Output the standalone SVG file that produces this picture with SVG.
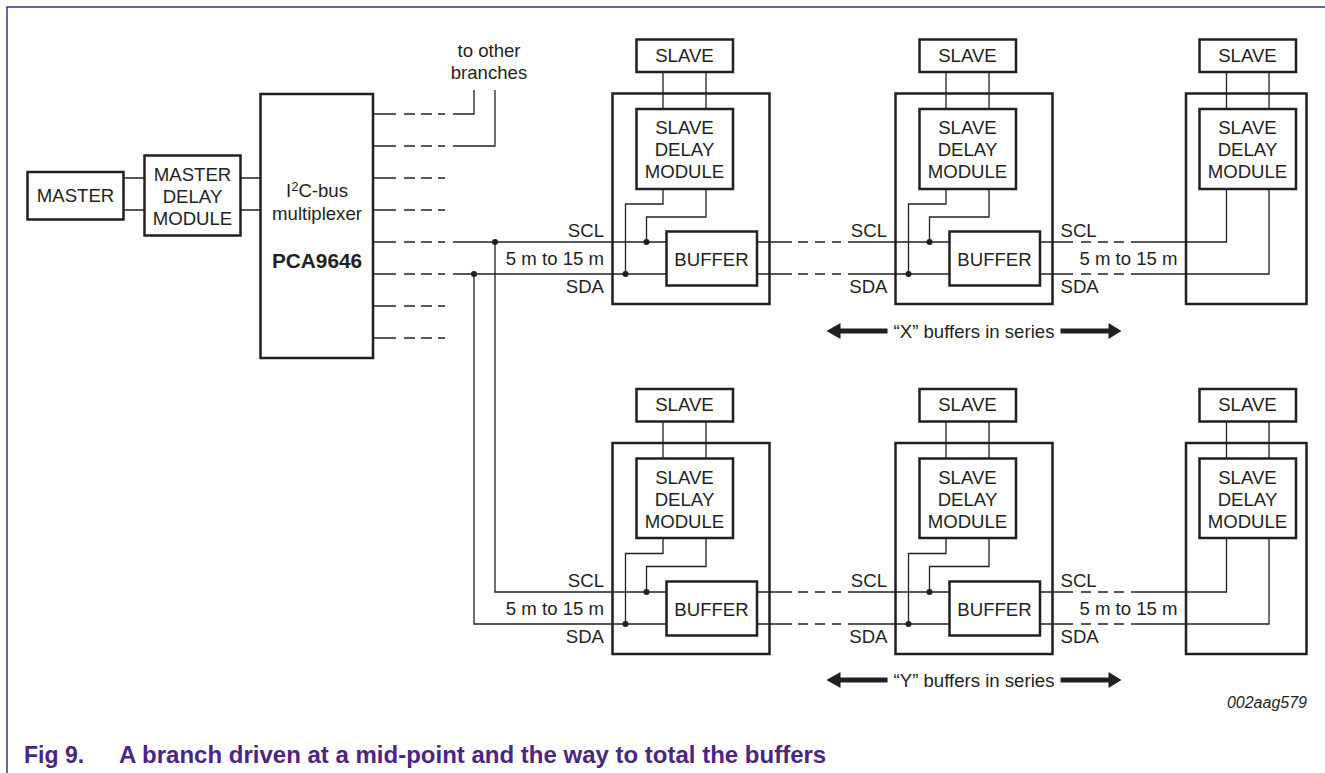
<svg xmlns="http://www.w3.org/2000/svg" width="1325" height="773" viewBox="0 0 1325 773">
<style>
text{font-family:"Liberation Sans",Arial,sans-serif;font-size:18.6px;fill:#231f20;text-anchor:middle}
.e{text-anchor:end}.s{text-anchor:start}
.b{fill:#fff;stroke:#231f20;stroke-width:2.5}
.o{fill:none;stroke:#231f20;stroke-width:2.5}
.w{fill:none;stroke:#231f20;stroke-width:1.3}
.d{fill:#231f20;stroke:none}
.f{fill:none;stroke:#4b2582;stroke-width:1.5}
.c{font-weight:700;fill:#4b2582;text-anchor:start;font-size:24px}
.g{font-size:23px}
.p{font-weight:700;font-size:20.8px}
.i{font-style:italic;font-size:16px}
</style>
<defs>
<path id="dl" class="w" d="M0 0H23M31 0H42M48 0H59M65 0H72"/>
<path id="dm" class="w" d="M0 0H35M41 0H51M58 0H68M75 0H84"/>
<g id="arl"><path class="d" d="M0 0L14-8V-2.500H61V2.500H14V8Z"/></g>
<g id="arr"><path class="d" d="M0 0L-13-8V-2.500H-61V2.500H-13V8Z"/></g>
</defs>
<path id="frame" class="f" d="M7 773V7H1325"/>

<g id="outers">
<rect class="o" x="612.500" y="93.500" width="157" height="210.500"/>
<rect class="o" x="895.500" y="93.500" width="157" height="210.500"/>
<rect class="o" x="1186" y="93.500" width="120.500" height="210.500"/>
<rect class="o" x="612.500" y="443" width="157" height="211"/>
<rect class="o" x="895.500" y="443" width="157" height="211"/>
<rect class="o" x="1186" y="443" width="120.500" height="211"/>
</g>

<g id="connectors">
<path class="w" d="M124 178H144M124 210H144M240 178H260M240 210H260"/>
<use href="#dl" x="373" y="114"/><use href="#dl" x="373" y="146"/><use href="#dl" x="373" y="178"/><use href="#dl" x="373" y="210"/>
<use href="#dl" x="373" y="242"/><use href="#dl" x="373" y="274"/><use href="#dl" x="373" y="306"/><use href="#dl" x="373" y="338"/>
<path class="w" d="M453 114H474V90M453 146H495V90"/>
<path class="w" d="M453 242H666M453 274H666M495 242V592H666M474 274V624H666"/>
<g id="row1">
<path class="w" d="M663 72V109M706 72V109M663 189V204H625.500V274M706 189V217H646.500V242"/>
<path class="w" d="M946 72V109M989 72V109M946 189V204H908.500V274M989 189V217H929.500V242"/>
<path class="w" d="M1226.500 72V109M1269 72V109"/>
<use href="#dm" x="757" y="242"/><use href="#dm" x="757" y="274"/>
<path class="w" d="M848 242H949M848 274H949"/>
<path class="w" d="M1040 242H1073M1081 242H1091M1098 242H1108M1114 242H1124M1131 242H1226.500V189M1040 274H1073M1081 274H1091M1098 274H1108M1114 274H1124M1131 274H1269V189"/>
</g>
<g id="row2">
<path class="w" d="M663 421V458M706 421V458M663 538V553.500H625.500V624M706 538V566.500H646.500V592"/>
<path class="w" d="M946 421V458M989 421V458M946 538V553.500H908.500V624M989 538V566.500H929.500V592"/>
<path class="w" d="M1226.500 421V458M1269 421V458"/>
<use href="#dm" x="757" y="592"/><use href="#dm" x="757" y="624"/>
<path class="w" d="M848 592H949M848 624H949"/>
<path class="w" d="M1040 592H1073M1081 592H1091M1098 592H1108M1114 592H1124M1131 592H1226.500V538M1040 624H1073M1081 624H1091M1098 624H1108M1114 624H1124M1131 624H1269V538"/>
</g>
<g id="dots">
<circle class="d" cx="495" cy="242" r="3"/><circle class="d" cx="474" cy="274" r="3"/>
<circle class="d" cx="646.500" cy="242" r="3"/><circle class="d" cx="625.500" cy="274" r="3"/>
<circle class="d" cx="929.500" cy="242" r="3"/><circle class="d" cx="908.500" cy="274" r="3"/>
<circle class="d" cx="646.500" cy="592" r="3"/><circle class="d" cx="625.500" cy="624" r="3"/>
<circle class="d" cx="929.500" cy="592" r="3"/><circle class="d" cx="908.500" cy="624" r="3"/>
</g>
</g>

<g id="master"><rect class="b" x="27.500" y="172" width="96" height="47.500"/><text x="75.500" y="202">MASTER</text></g>
<g id="master-delay"><rect class="b" x="144.500" y="155.500" width="96" height="80"/><text x="192.500" y="180.500">MASTER</text><text x="192.500" y="202.500">DELAY</text><text x="192.500" y="225">MODULE</text></g>
<g id="mux"><rect class="b" x="260.500" y="94" width="112.500" height="264"/><text x="317" y="197">I<tspan font-size="13" dy="-6">2</tspan><tspan dy="6">C-bus</tspan></text><text x="317" y="220">multiplexer</text><text class="p" x="317" y="267.500">PCA9646</text></g>
<g id="other-label"><text x="489" y="57">to other</text><text x="489" y="79">branches</text></g>

<g id="s1"><rect class="b" x="636.500" y="39.500" width="96.500" height="32.500"/><text x="684.500" y="61.500">SLAVE</text></g>
<g id="sd1"><rect class="b" x="636.500" y="109" width="96.500" height="80"/><text x="684.500" y="134">SLAVE</text><text x="684.500" y="156">DELAY</text><text x="684.500" y="178">MODULE</text></g>
<g id="b1"><rect class="b" x="666.500" y="231.500" width="90.500" height="54"/><text x="711.500" y="266">BUFFER</text></g>
<g id="s2"><rect class="b" x="919.500" y="39.500" width="96.500" height="32.500"/><text x="967.500" y="61.500">SLAVE</text></g>
<g id="sd2"><rect class="b" x="919.500" y="109" width="96.500" height="80"/><text x="967.500" y="134">SLAVE</text><text x="967.500" y="156">DELAY</text><text x="967.500" y="178">MODULE</text></g>
<g id="b2"><rect class="b" x="949.500" y="231.500" width="90.500" height="54"/><text x="994.500" y="266">BUFFER</text></g>
<g id="s3"><rect class="b" x="1199.500" y="39.500" width="96.500" height="32.500"/><text x="1247.500" y="61.500">SLAVE</text></g>
<g id="sd3"><rect class="b" x="1199.500" y="109" width="96.500" height="80"/><text x="1247.500" y="134">SLAVE</text><text x="1247.500" y="156">DELAY</text><text x="1247.500" y="178">MODULE</text></g>

<g id="s4"><rect class="b" x="636.500" y="389" width="96.500" height="32.500"/><text x="684.500" y="411">SLAVE</text></g>
<g id="sd4"><rect class="b" x="636.500" y="458.500" width="96.500" height="79.500"/><text x="684.500" y="483.500">SLAVE</text><text x="684.500" y="505.500">DELAY</text><text x="684.500" y="527.700">MODULE</text></g>
<g id="b4"><rect class="b" x="666.500" y="581.500" width="90.500" height="54"/><text x="711.500" y="616">BUFFER</text></g>
<g id="s5"><rect class="b" x="919.500" y="389" width="96.500" height="32.500"/><text x="967.500" y="411">SLAVE</text></g>
<g id="sd5"><rect class="b" x="919.500" y="458.500" width="96.500" height="79.500"/><text x="967.500" y="483.500">SLAVE</text><text x="967.500" y="505.500">DELAY</text><text x="967.500" y="527.700">MODULE</text></g>
<g id="b5"><rect class="b" x="949.500" y="581.500" width="90.500" height="54"/><text x="994.500" y="616">BUFFER</text></g>
<g id="s6"><rect class="b" x="1199.500" y="389" width="96.500" height="32.500"/><text x="1247.500" y="411">SLAVE</text></g>
<g id="sd6"><rect class="b" x="1199.500" y="458.500" width="96.500" height="79.500"/><text x="1247.500" y="483.500">SLAVE</text><text x="1247.500" y="505.500">DELAY</text><text x="1247.500" y="527.700">MODULE</text></g>

<g id="labels">
<text class="e" x="604" y="236.500">SCL</text><text class="e" x="604" y="265">5 m to 15 m</text><text class="e" x="604" y="293">SDA</text>
<text class="e" x="887" y="236.500">SCL</text><text class="e" x="887.500" y="293">SDA</text>
<text class="s" x="1060.500" y="236.500">SCL</text><text x="1128.500" y="265">5 m to 15 m</text><text class="s" x="1060.500" y="293">SDA</text>
<text class="e" x="604" y="586.500">SCL</text><text class="e" x="604" y="615">5 m to 15 m</text><text class="e" x="604" y="643">SDA</text>
<text class="e" x="887" y="586.500">SCL</text><text class="e" x="887.500" y="643">SDA</text>
<text class="s" x="1060.500" y="586.500">SCL</text><text x="1128.500" y="615">5 m to 15 m</text><text class="s" x="1060.500" y="643">SDA</text>
<use href="#arl" x="826.500" y="331"/><text x="974" y="337.500">“X” buffers in series</text><use href="#arr" x="1121.500" y="331"/>
<use href="#arl" x="826.500" y="680"/><text x="974" y="687">“Y” buffers in series</text><use href="#arr" x="1121.500" y="680"/>
<text class="e i" x="1307" y="708">002aag579</text>
</g>
<g id="caption"><text class="c g" x="24" y="762.500">Fig 9.</text><text class="c" x="119" y="762.500">A branch driven at a mid-point and the way to total the buffers</text></g>
</svg>
